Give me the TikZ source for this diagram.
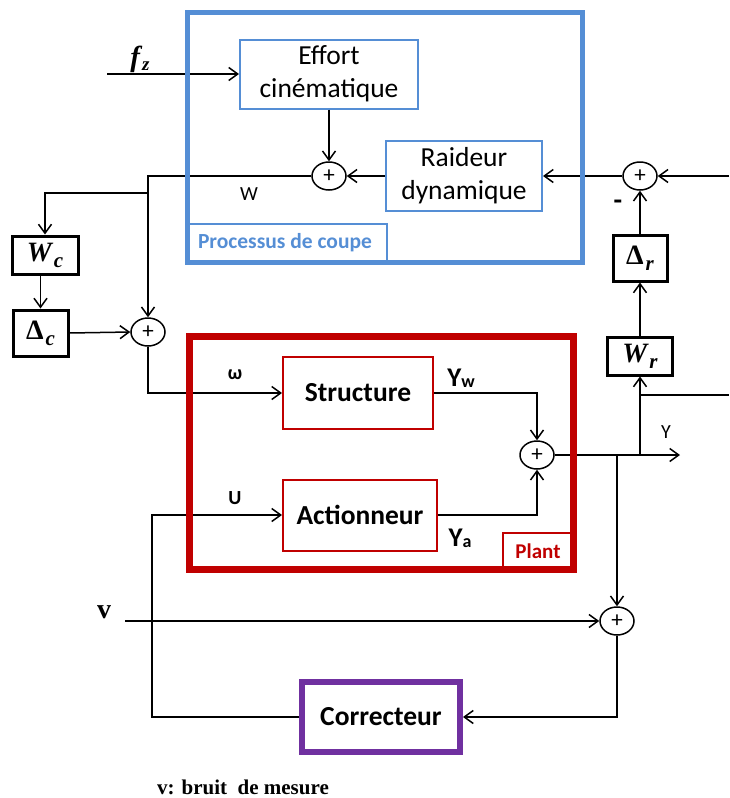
\documentclass[tikz,border=0pt]{standalone}
\usepackage{fontspec}
\setmainfont{Carlito}
\newfontfamily\tms{Liberation Serif}
\usetikzlibrary{arrows.meta,shapes.geometric}
\definecolor{bl}{RGB}{85,142,213}
\definecolor{rd}{RGB}{192,0,0}
\definecolor{pu}{RGB}{112,48,160}
\newcommand{\msub}[2]{#1\kern2pt\raisebox{-6pt}{\fontsize{21}{21}\selectfont #2}}
\begin{document}
\begin{tikzpicture}[x=1pt,y=-1pt, line width=1.5pt,
  >={Straight Barb[length=9pt,width=13pt]},
  bbox/.style={draw=bl, line width=2pt, inner sep=0pt, align=center, font=\fontsize{27.5}{33}\selectfont},
  rbox/.style={draw=rd, line width=2pt, inner sep=0pt, font=\bfseries\fontsize{27.5}{30}\selectfont},
  kbox/.style={draw, line width=3pt, inner sep=0pt, font=\tms\bfseries\fontsize{28}{30}\selectfont},
  sumn/.style={ellipse, draw, line width=1.5pt, minimum width=34pt, minimum height=28pt, inner sep=0pt, font=\fontsize{23}{23}\selectfont},
  lab/.style={font=\fontsize{20}{20}\selectfont, inner sep=0pt},
  blab/.style={font=\bfseries\fontsize{20}{20}\selectfont, inner sep=0pt}]
\useasboundingbox (0,0) rectangle (729,798);

% blocks
\node[bbox, minimum width=178pt, minimum height=69pt] (eff) at (329,74) {Effort\\cinématique};
\node[bbox, minimum width=156pt, minimum height=70pt] (raid) at (464,176) {Raideur\\dynamique};
\node[sumn] (s1) at (329,176) {+};
\node[sumn] (s2) at (640,176) {+};
\node[sumn] (s3) at (148,332) {+};
\node[sumn] (s4) at (537,455) {+};
\node[sumn] (s5) at (617,621) {+};
\node[kbox, minimum width=66pt, minimum height=38pt] (Wc) at (45,255) {\itshape\msub{W}{c}};
\node[kbox, minimum width=55pt, minimum height=46pt] (Dc) at (40.5,333) {\msub{Δ}{\itshape c}};
\node[kbox, minimum width=54pt, minimum height=46pt] (Dr) at (640,258) {\msub{Δ}{\itshape r}};
\node[kbox, minimum width=65pt, minimum height=38pt] (Wr) at (640,356) {\itshape\msub{W}{r}};
\node[rbox, minimum width=150pt, minimum height=72pt] (st) at (358,393) {Structure};
\node[rbox, minimum width=154pt, minimum height=71pt] (ac) at (360,515) {Actionneur};
\node[draw=pu, line width=6pt, minimum width=158pt, minimum height=70pt, inner sep=0pt,
      font=\bfseries\fontsize{27.5}{30}\selectfont] (co) at (381,717) {Correcteur};

% free ends
\coordinate (fz0) at (107,74);
\coordinate (jw) at (148,193);
\coordinate (yend) at (680,455);
\coordinate (jr) at (640,455);
\coordinate (jv) at (617,455);
\coordinate (rin) at (729,176);
\coordinate (rout) at (729,395);
\coordinate (jb) at (640,395);
\coordinate (v0) at (125,621);
\coordinate (cl) at (152,717);

% connectors
\draw[->] (fz0) -- (eff.west);
\draw[->] (eff.south) -- (s1.north);
\draw[->] (raid.west) -- (s1.east);
\draw[->] (s1.west) -- (s1 -| s3) -- (s3.north);
\draw[->] (jw) -- (jw -| Wc) -- (Wc.north);
\draw[->] (Dc.north |- Wc.south) -- (Dc.north);
\draw[->] (Dc.east) -- (s3.west);
\draw[->] (s3.south) -- (s3 |- st) -- (st.west);
\draw[->] (st.east) -- (st -| s4) -- (s4.north);
\draw[->] (ac.east) -- (ac -| s4) -- (s4.south);
\draw[->] (s4.east) -- (yend);
\draw[->] (jr) -- (Wr.south);
\draw (jb) -- (rout);
\draw[->] (Wr.north) -- (Dr.south);
\draw[->] (Dr.north) -- (s2.south);
\draw[->] (rin) -- (s2.east);
\draw[->] (s2.west) -- (raid.east);
\draw[->] (jv) -- (s5.north);
\draw[->] (v0) -- (s5.west);
\draw[->] (s5.south) -- (s5 |- co) -- (co.east);
\draw[->] (co.west) -- (cl) -- (cl |- ac) -- (ac.west);

% frames
\draw[bl, line width=5.5pt] (187.5,12.5) rectangle (582.5,262.5);
\draw[bl, line width=2pt] (187,224) rectangle (387,262);
\node[text=bl, font=\bfseries\fontsize{21.5}{22}\selectfont] (pc) at (285,243) {Processus de coupe};
\draw[rd, line width=7pt] (189.5,336.5) rectangle (573.5,569);
\draw[rd, line width=2pt] (503,533) rectangle (573,569);
\node[text=rd, font=\bfseries\fontsize{21}{21}\selectfont] (pl) at (538,551) {Plant};

% labels
\node[lab] (lw) at (249,194) {W};
\node[blab] (lom) at (235,375) {ω};
\node[blab] (lu) at (235,498) {U};
\node[font=\bfseries\fontsize{27}{27}\selectfont, inner sep=0pt] (lyw) at (461,378) {Y\raisebox{-1pt}{\fontsize{18}{18}\selectfont w}};
\node[font=\bfseries\fontsize{27}{27}\selectfont, inner sep=0pt] (lya) at (460,538) {Y\raisebox{-1pt}{\fontsize{18}{18}\selectfont a}};
\node[lab] (ly) at (666,432) {Y};
\node[font=\bfseries\fontsize{28}{28}\selectfont, inner sep=0pt] (mn) at (618,205) {-};
\node[font=\tms\bfseries\itshape\fontsize{29}{29}\selectfont, inner sep=0pt] (lfz) at (140,59) {f\kern2pt\raisebox{-4pt}{\fontsize{19}{19}\selectfont z}};
\node[font=\tms\bfseries\fontsize{28}{28}\selectfont, inner sep=0pt] (lv) at (104,612) {v};
\node[font=\tms\bfseries\fontsize{21}{21}\selectfont, inner sep=0pt] (note) at (243,787) {v: bruit\ \ de mesure};
\end{tikzpicture}
\end{document}
